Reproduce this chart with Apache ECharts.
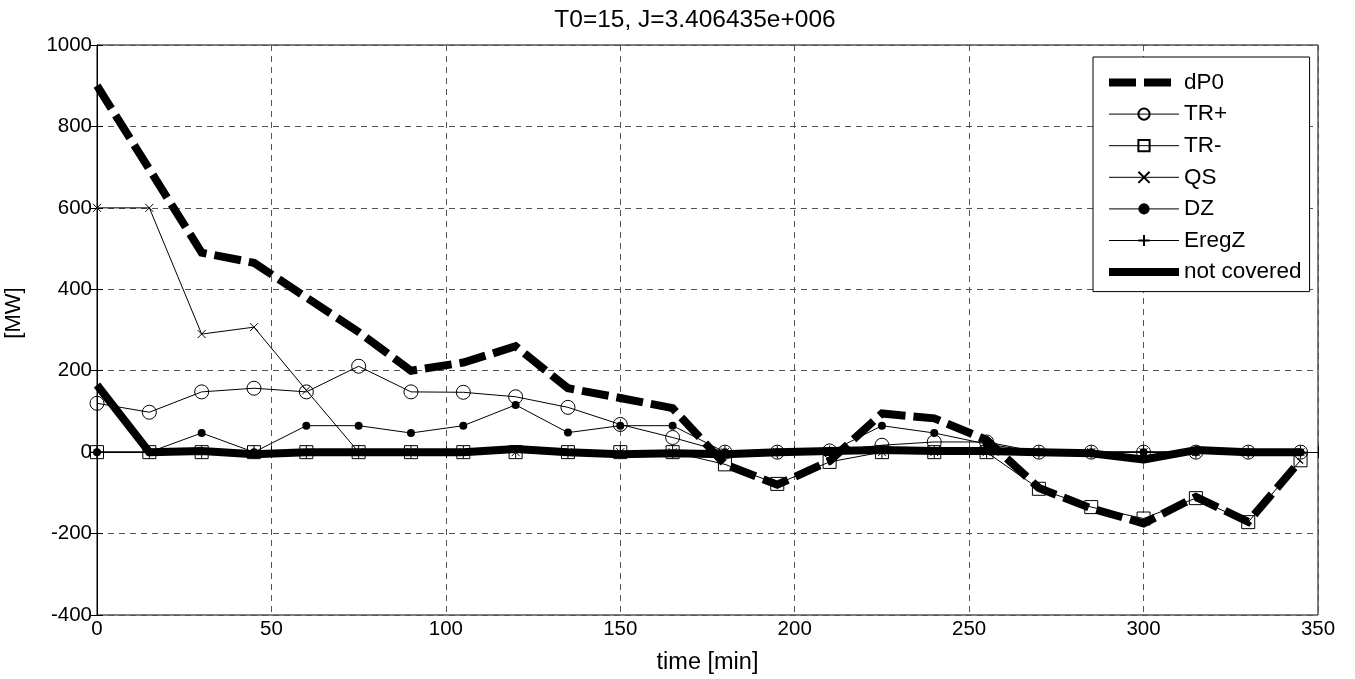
<!DOCTYPE html>
<html><head><meta charset="utf-8">
<script src="https://cdn.jsdelivr.net/npm/echarts@6/dist/echarts.min.js"></script>
<style>html,body{margin:0;padding:0;background:#fff}#c{width:1355px;height:679px}</style>
</head><body><div id="c"></div>
<script>
// ---- data ----
const titleText = 'T0=15, J=3.406435e+006';
const xName = 'time [min]';
const yName = '[MW]';
const seriesNames = ['dP0', 'TR+', 'TR-', 'QS', 'DZ', 'EregZ', 'not covered'];
const time = [0, 15, 30, 45, 60, 75, 90, 105, 120, 135, 150, 165, 180, 195, 210, 225, 240, 255, 270, 285, 300, 315, 330, 345];
const dP0 = [900, 695, 490, 465, 380, 295, 200, 220, 260, 157, 133, 108, -30, -80, -22, 95, 83, 30, -88, -138, -175, -110, -171, -20];
const trPlus = [120, 98, 148, 157, 148, 211, 148, 147, 136, 110, 68, 36, 0, 0, 3, 17, 25, 25, 0, 0, 0, 0, 0, 0];
const trMinus = [0, 0, 0, 0, 0, 0, 0, 0, 0, 0, 0, 0, -30, -78, -24, 0, 0, 0, -90, -135, -163, -113, -172, -20];
const qs = [600, 600, 290, 307, 152, 0, 0, 0, 0, 0, 0, 0, 0, 0, 0, 0, 0, 0, 0, 0, 0, 0, 0, 0];
const dz = [0, 0, 47, 0, 65, 65, 47, 65, 116, 48, 65, 65, 0, 0, 0, 65, 47, 20, 0, 0, 0, 0, 0, 0];
const eregZ = [0, 0, 0, 0, 0, 0, 0, 0, 0, 0, 0, 0, 0, 0, 0, 0, 0, 0, 0, 0, 0, 0, 0, 0];
const notCovered = [165, 0, 3, -5, 0, 0, 0, 0, 8, 0, -5, -3, -5, 0, 3, 5, 3, 3, 0, -3, -18, 5, 0, 0];
const xMin = 0, xMax = 350, xStep = 50;
const yMin = -400, yMax = 1000, yStep = 200;

// ---- chart ----
const pairs = ys => time.map((t, i) => [t, ys[i]]);
const FONT = 'Liberation Sans';
const TICK_FS = 20.5;
const hollow = { color: 'none', borderColor: '#000', borderWidth: 1 };
const gridLine = { show: true, lineStyle: { color: '#555', type: [6, 5], width: 1 } };
const DASH = [27, 8];
const baseSeries = {
  type: 'line', silent: true, emphasis: { disabled: true }, animation: false
};
const plain = v => String(v);
const chart = echarts.init(document.getElementById('c'), null, { renderer: 'canvas' });
chart.setOption({
  animation: false,
  backgroundColor: '#fff',
  textStyle: { fontFamily: FONT },
  title: {
    text: titleText, left: 690, top: 3, textAlign: 'center', padding: 5,
    textStyle: { fontFamily: FONT, fontSize: 24.5, fontWeight: 'normal', color: '#000' }
  },
  grid: { left: 97, right: 37, top: 45, bottom: 64, show: true, borderColor: '#000', borderWidth: 1, backgroundColor: 'transparent', outerBoundsMode: 'none', containLabel: false },
  legend: {
    orient: 'vertical', left: 1093, top: 57, padding: [14, 8, 8, 12],
    itemWidth: 70, itemHeight: 14, itemGap: 8.6, selectedMode: false,
    borderColor: '#000', borderWidth: 1, backgroundColor: '#fff',
    textStyle: { fontFamily: FONT, fontSize: 22.5, color: '#000' },
    data: [
      { name: seriesNames[0], itemStyle: { color: 'transparent', borderWidth: 0, opacity: 0 }, lineStyle: { width: 8, type: DASH, color: '#000' } },
      { name: seriesNames[1], lineStyle: { width: 1, color: '#000' } },
      { name: seriesNames[2], lineStyle: { width: 1, color: '#000' } },
      { name: seriesNames[3], lineStyle: { width: 1, color: '#000' } },
      { name: seriesNames[4], lineStyle: { width: 1, color: '#000' } },
      { name: seriesNames[5], lineStyle: { width: 1, color: '#000' } },
      { name: seriesNames[6], itemStyle: { color: 'transparent', borderWidth: 0, opacity: 0 }, lineStyle: { width: 8, color: '#000' } }
    ]
  },
  xAxis: [{
    type: 'value', min: xMin, max: xMax, interval: xStep, position: 'bottom',
    name: xName, nameLocation: 'middle', nameGap: 36,
    nameTextStyle: { fontFamily: FONT, fontSize: 23.5, color: '#000' },
    axisLine: { show: true, lineStyle: { color: '#000', width: 1 } },
    axisTick: { show: true, inside: true, length: 6, lineStyle: { color: '#000' } },
    axisLabel: { fontFamily: FONT, fontSize: TICK_FS, color: '#000', margin: 4, formatter: plain },
    splitLine: gridLine
  }, {
    type: 'value', min: xMin, max: xMax, interval: xStep, position: 'top',
    axisLine: { show: true, lineStyle: { color: '#000', width: 1 } },
    axisTick: { show: true, inside: true, length: 6, lineStyle: { color: '#000' } },
    axisLabel: { show: false }, splitLine: { show: false }
  }],
  yAxis: [{
    type: 'value', min: yMin, max: yMax, interval: yStep, position: 'left',
    name: yName, nameLocation: 'middle', nameGap: 72,
    nameTextStyle: { fontFamily: FONT, fontSize: 22, color: '#000', padding: [0, 0, 0, 34] },
    axisLine: { show: true, lineStyle: { color: '#000', width: 1 } },
    axisTick: { show: true, inside: true, length: 6, lineStyle: { color: '#000' } },
    axisLabel: { fontFamily: FONT, fontSize: TICK_FS, color: '#000', margin: 5, formatter: plain },
    splitLine: gridLine
  }, {
    type: 'value', min: yMin, max: yMax, interval: yStep, position: 'right',
    axisLine: { show: true, lineStyle: { color: '#000', width: 1 } },
    axisTick: { show: true, inside: true, length: 6, lineStyle: { color: '#000' } },
    axisLabel: { show: false }, splitLine: { show: false }
  }],
  series: [
    Object.assign({}, baseSeries, {
      name: seriesNames[0], data: pairs(dP0), symbol: 'none',
      itemStyle: { color: '#000' },
      lineStyle: { color: '#000', width: 8, type: DASH, cap: 'butt', join: 'miter' }
    }),
    Object.assign({}, baseSeries, {
      name: seriesNames[1], data: pairs(trPlus), symbol: 'circle', symbolSize: 14,
      itemStyle: hollow, lineStyle: { color: '#000', width: 1 }
    }),
    Object.assign({}, baseSeries, {
      name: seriesNames[2], data: pairs(trMinus), symbol: 'rect', symbolSize: 13,
      itemStyle: hollow, lineStyle: { color: '#000', width: 1 }
    }),
    Object.assign({}, baseSeries, {
      name: seriesNames[3], data: pairs(qs), symbol: 'path://M0,0L10,10M10,0L0,10', symbolSize: 8,
      itemStyle: hollow, lineStyle: { color: '#000', width: 1 }
    }),
    Object.assign({}, baseSeries, {
      name: seriesNames[4], data: pairs(dz), symbol: 'circle', symbolSize: 8,
      itemStyle: { color: '#000', borderWidth: 0 }, lineStyle: { color: '#000', width: 1 }
    }),
    Object.assign({}, baseSeries, {
      name: seriesNames[5], data: pairs(eregZ), symbol: 'path://M5,0L5,10M0,5L10,5', symbolSize: 13,
      itemStyle: hollow, lineStyle: { color: '#000', width: 1 }
    }),
    Object.assign({}, baseSeries, {
      name: seriesNames[6], data: pairs(notCovered), symbol: 'none',
      itemStyle: { color: '#000' }, lineStyle: { color: '#000', width: 8, join: 'round' }
    })
  ]
});
</script>
</body></html>
